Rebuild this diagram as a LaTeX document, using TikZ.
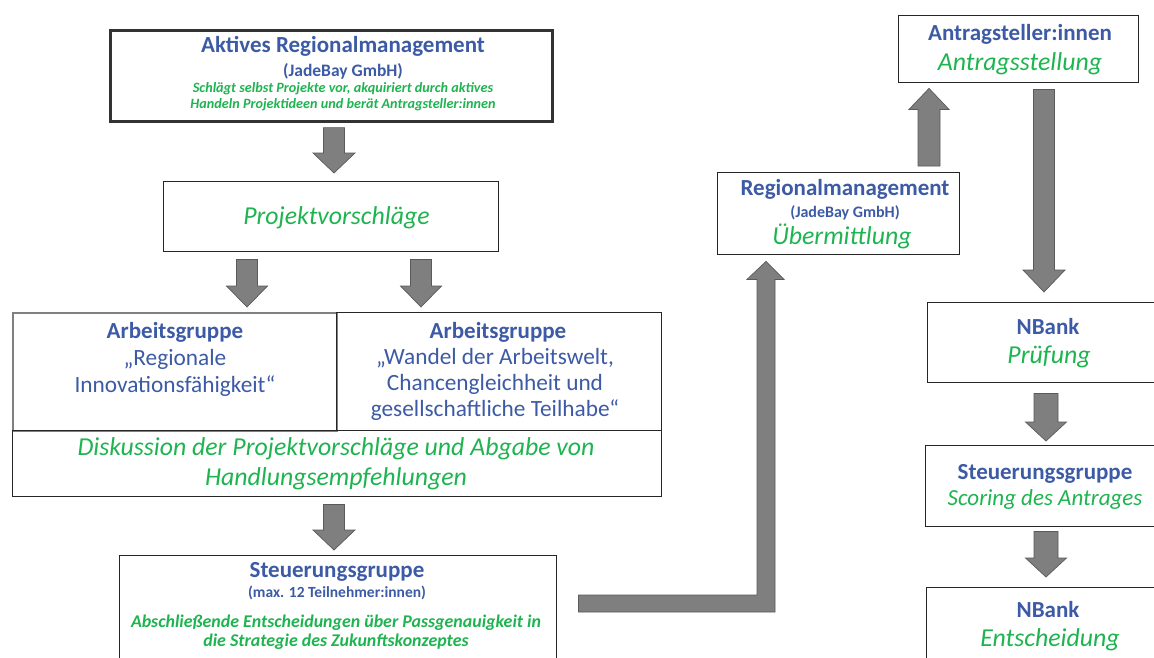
\documentclass[tikz,border=0pt]{standalone}
\usepackage{fontspec}
\setmainfont{Carlito}
\usetikzlibrary{calc}
\definecolor{tblue}{RGB}{60,90,165}
\definecolor{tgreen}{RGB}{30,180,80}
\definecolor{arrfill}{RGB}{127,127,127}
\definecolor{arrline}{RGB}{90,90,90}
\tikzset{
 box/.style={draw=black!85, line width=1.4pt, inner sep=0pt, anchor=north west},
 ttl/.style={font=\fontsize{23}{26}\selectfont\bfseries, text=tblue, inner sep=0pt, text height=15pt, text depth=0pt},
 reg/.style={font=\fontsize{23.3}{26}\selectfont, text=tblue, inner sep=0pt, text height=15pt, text depth=0pt},
 act/.style={font=\fontsize{#1}{#1}\selectfont\itshape, text=tgreen, inner sep=0pt, text height=0.64*#1, text depth=0pt},
 act/.default=25.8,
 sub/.style={font=\fontsize{#1}{#1}\selectfont\bfseries, text=tblue, inner sep=0pt, text height=0.64*#1, text depth=0pt},
 note/.style={font=\fontsize{#1}{#1}\selectfont\bfseries\itshape, text=tgreen, inner sep=0pt, text height=0.64*#1, text depth=0pt},
 blockarrow/.style={fill=arrfill, draw=arrline, line width=0.7pt, line join=miter},
}
% vertical block arrow: #1 start, #2 tip, #3 half shaft, #4 half head, #5 head length (signed)
\newcommand\vblock[5]{%
 \filldraw[blockarrow] let \p1=(#1), \p2=(#2) in
  ({\x1-#3},\y1) -- ({\x1+#3},\y1) -- ({\x1+#3},{\y2+#5}) -- ({\x1+#4},{\y2+#5})
  -- (\x1,\y2) -- ({\x1-#4},{\y2+#5}) -- ({\x1-#3},{\y2+#5}) -- cycle;}
\begin{document}
\begin{tikzpicture}[x=1pt,y=1pt]
\clip (0,0) rectangle (1154,-657);
\fill[white] (0,0) rectangle (1154,-657);
% boxes
\node[box, draw=black!80, line width=2.6pt, minimum width=442pt, minimum height=91pt] (top) at (109,-29) {};
\node[box, minimum width=335pt, minimum height=70pt] (proj) at (163,-181) {};
\node[box, draw=black!50, line width=2.4pt, minimum width=324pt, minimum height=118pt] (ag1) at (12,-312) {};
\node[box, minimum width=325pt, minimum height=118pt] (ag2) at (336,-312) {};
\node[box, minimum width=649pt, minimum height=66pt] (disk) at (12,-430) {};
\node[box, minimum width=437pt, minimum height=130pt] (steu) at (119,-555) {};
\node[box, minimum width=242pt, minimum height=82pt] (regm) at (717,-172) {};
\node[box, minimum width=240pt, minimum height=67pt] (antr) at (898,-15) {};
\node[box, minimum width=243pt, minimum height=80pt] (pruef) at (927,-302) {};
\node[box, minimum width=245pt, minimum height=81pt] (steu2) at (925,-445) {};
\node[box, minimum width=244pt, minimum height=100pt] (ents) at (926,-587) {};
% texts
\node[ttl] (top1) at (343,-45) {Aktives Regionalmanagement};
\node[sub=17.5] (top2) at (343,-71) {(JadeBay GmbH)};
\node[note=14.2] (top3) at (343,-88) {Schlägt selbst Projekte vor, akquiriert durch aktives};
\node[note=14.2] (top4) at (343,-104) {Handeln Projektideen und berät Antragsteller:innen};
\node[act] (proj1) at (336.5,-216) {Projektvorschläge};
\node[ttl] (ag11) at (175,-331) {Arbeitsgruppe};
\node[reg] (ag12) at (175,-358) {„Regionale};
\node[reg] (ag13) at (175,-385) {Innovationsfähigkeit“};
\node[ttl] (ag21) at (498,-331) {Arbeitsgruppe};
\node[reg] (ag22) at (495,-357) {„Wandel der Arbeitswelt,};
\node[reg] (ag23) at (495,-383) {Chancengleichheit und};
\node[reg] (ag24) at (495,-409) {gesellschaftliche Teilhabe“};
\node[act] (disk1) at (336,-447) {Diskussion der Projektvorschläge und Abgabe von};
\node[act] (disk2) at (336,-477) {Handlungsempfehlungen};
\node[ttl] (steu1) at (337,-570) {Steuerungsgruppe};
\node[sub=15.5] (steu2t) at (337,-593) {(max. 12 Teilnehmer:innen)};
\node[note=17.9] (steu3) at (336,-622) {Abschließende Entscheidungen über Passgenauigkeit in};
\node[note=17.9] (steu4) at (336,-641) {die Strategie des Zukunftskonzeptes};
\node[ttl] (regm1) at (845,-188) {Regionalmanagement};
\node[sub=16] (regm2) at (845,-212) {(JadeBay GmbH)};
\node[act] (regm3) at (842,-236) {Übermittlung};
\node[ttl] (antr1) at (1020,-33) {Antragsteller:innen};
\node[act] (antr2) at (1020,-62) {Antragsstellung};
\node[ttl] (pr1) at (1048,-327) {NBank};
\node[act] (pr2) at (1049,-355) {Prüfung};
\node[ttl] (st1) at (1045,-472) {Steuerungsgruppe};
\node[act=23] (st2) at (1045,-498) {Scoring des Antrages};
\node[ttl] (en1) at (1048,-610) {NBank};
\node[act] (en2) at (1050,-638) {Entscheidung};
% arrow anchor coordinates
\coordinate (a1s) at ($(top.south west)+(225,-5)$);
\coordinate (a1e) at ($(proj.north west)+(171,8)$);
\coordinate (a2s) at ($(proj.south west)+(84,-7)$);
\coordinate (a2e) at ($(ag1.north west)+(235,5)$);
\coordinate (a3s) at ($(proj.south west)+(258,-7)$);
\coordinate (a3e) at ($(ag2.north west)+(85,5)$);
\coordinate (a4s) at ($(disk.south west)+(322,-7)$);
\coordinate (a4e) at ($(steu.north west)+(215,5)$);
\coordinate (a5s) at ($(regm.north west)+(212,6)$);
\coordinate (a5e) at ($(antr.south west)+(31,-5)$);
\coordinate (a6s) at ($(antr.south west)+(146,-6)$);
\coordinate (a6e) at ($(pruef.north west)+(118,10)$);
\coordinate (a7s) at ($(pruef.south west)+(119,-10)$);
\coordinate (a7e) at ($(steu2.north west)+(121,4)$);
\coordinate (a8s) at ($(steu2.south west)+(121,-4)$);
\coordinate (a8e) at ($(ents.north west)+(120,10)$);
\vblock{a1s}{a1e}{10.5}{21}{20}
\vblock{a2s}{a2e}{10.5}{20.5}{21}
\vblock{a3s}{a3e}{10.5}{20.5}{21}
\vblock{a4s}{a4e}{10.5}{21}{20}
\vblock{a5s}{a5e}{11}{20}{-21}
\vblock{a6s}{a6e}{10.5}{21}{22}
\vblock{a7s}{a7e}{12}{20.5}{19}
\vblock{a8s}{a8e}{12}{20.5}{19}
% elbow arrow from Steuerungsgruppe to Regionalmanagement
\coordinate (es) at ($(steu.north east)+(21,-40)$);
\coordinate (et) at ($(regm.south west)+(49,-6)$);
\filldraw[blockarrow] let \p1=(es), \p2=(et) in
 (\x1,\y1) -- ({\x2-9},\y1) -- ({\x2-9},{\y2-18}) -- ({\x2-19},{\y2-18}) -- (\x2,\y2)
 -- ({\x2+18},{\y2-18}) -- ({\x2+9},{\y2-18}) -- ({\x2+9},{\y1-17}) -- (\x1,{\y1-17}) -- cycle;
\end{tikzpicture}
\end{document}
